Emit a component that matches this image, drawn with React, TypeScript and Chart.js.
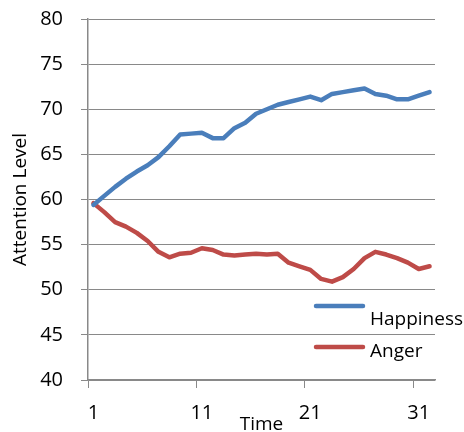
import React, { useEffect, useRef } from "react";
import { Chart, registerables } from "chart.js";

Chart.register(...registerables);

const categories: string[] = Array.from({ length: 32 }, (_, i) => String(i + 1));

const happiness: number[] = [
  59.4, 60.4, 61.4, 62.3, 63.1, 63.8, 64.7, 65.9, 67.2, 67.3,
  67.4, 66.8, 66.8, 67.9, 68.5, 69.5, 70.0, 70.5, 70.8, 71.1,
  71.4, 71.0, 71.7, 71.9, 72.1, 72.3, 71.7, 71.5, 71.1, 71.1,
  71.5, 71.9,
];

const anger: number[] = [
  59.6, 58.6, 57.5, 57.0, 56.3, 55.4, 54.2, 53.6, 54.0, 54.1,
  54.6, 54.4, 53.9, 53.8, 53.9, 54.0, 53.9, 54.0, 53.0, 52.6,
  52.2, 51.2, 50.9, 51.4, 52.3, 53.5, 54.2, 53.9, 53.5, 53.0,
  52.3, 52.6,
];

const seriesNames = ["Happiness", "Anger"];
const seriesColors = ["#4A7EBB", "#BE4B48"];
const yTicks = { min: 40, max: 80, step: 5 };
const xTitle = "Time";
const yTitle = "Attention Level";

const FONT = "'Open Sans', sans-serif";
const GRID = "#898989";

const legendPlugin = {
  id: "insideLegend",
  afterDatasetsDraw(chart: any) {
    const { ctx, chartArea } = chart;
    const rows = [
      { lineY: chartArea.bottom - 74, textY: chartArea.bottom - 55 },
      { lineY: chartArea.bottom - 33, textY: chartArea.bottom - 23 },
    ];
    const x0 = chartArea.right - 119;
    const x1 = chartArea.right - 72;
    ctx.save();
    chart.data.datasets.forEach((ds: any, i: number) => {
      const r = rows[i];
      ctx.strokeStyle = ds.borderColor;
      ctx.lineWidth = 4.5;
      ctx.lineCap = "round";
      ctx.beginPath();
      ctx.moveTo(x0, r.lineY);
      ctx.lineTo(x1, r.lineY);
      ctx.stroke();
      ctx.fillStyle = "#000";
      ctx.font = `19px ${FONT}`;
      ctx.textAlign = "left";
      ctx.textBaseline = "alphabetic";
      ctx.fillText(ds.label, x1 + 7, r.textY);
    });
    ctx.restore();
  },
};

export default function App() {
  const ref = useRef<HTMLCanvasElement | null>(null);

  useEffect(() => {
    if (!ref.current) return;
    const chart = new Chart(ref.current, {
      type: "line",
      data: {
        labels: categories,
        datasets: [
          {
            label: seriesNames[0],
            data: happiness,
            borderColor: seriesColors[0],
            backgroundColor: seriesColors[0],
            borderWidth: 4.5,
            pointRadius: 0,
            tension: 0,
            borderJoinStyle: "round",
            borderCapStyle: "round",
          },
          {
            label: seriesNames[1],
            data: anger,
            borderColor: seriesColors[1],
            backgroundColor: seriesColors[1],
            borderWidth: 4.5,
            pointRadius: 0,
            tension: 0,
            borderJoinStyle: "round",
            borderCapStyle: "round",
          },
        ],
      },
      options: {
        animation: false,
        responsive: false,
        maintainAspectRatio: false,
        layout: { padding: { left: 0, top: 19, right: 29, bottom: 0 } },
        plugins: {
          legend: { display: false },
          tooltip: { enabled: false },
        },
        scales: {
          x: {
            type: "category",
            offset: true,
            grid: {
              offset: true,
              drawOnChartArea: false,
              drawTicks: true,
              tickLength: 8,
              color: (c: any) => (c.index !== undefined && c.index % 10 === 0 ? GRID : "rgba(0,0,0,0)"),
            },
            border: { display: true, color: GRID, width: 1.5 },
            ticks: {
              autoSkip: false,
              maxRotation: 0,
              padding: 13,
              color: "#000",
              font: { family: FONT, size: 20 },
              callback: (_v: any, i: number) => (i % 10 === 0 ? categories[i] : ""),
            },
            title: {
              display: true,
              text: xTitle,
              color: "#000",
              font: { family: FONT, size: 19 },
              padding: { top: 0, bottom: -4 },
            },
            afterFit: (s: any) => {
              s.height = 52;
              s.paddingLeft = 0;
              s.paddingRight = 0;
            },
          },
          y: {
            min: yTicks.min,
            max: yTicks.max,
            grid: {
              color: GRID,
              lineWidth: 1,
              drawTicks: true,
              tickLength: 7,
            },
            border: { display: true, color: GRID, width: 1.5 },
            ticks: {
              stepSize: yTicks.step,
              padding: 18,
              color: "#000",
              font: { family: FONT, size: 20 },
            },
            title: {
              display: true,
              text: yTitle,
              color: "#000",
              font: { family: FONT, size: 19 },
              padding: { top: 9, bottom: 0 },
            },
            afterFit: (s: any) => {
              s.width = 88;
              s.paddingTop = 0;
              s.paddingBottom = 0;
            },
          },
        },
      },
      plugins: [legendPlugin],
    });
    return () => chart.destroy();
  }, []);

  return (
    <div style={{ position: "fixed", left: 0, top: 0, width: 464, height: 432, background: "#fff" }}>
      <canvas ref={ref} width={464} height={432} />
    </div>
  );
}
